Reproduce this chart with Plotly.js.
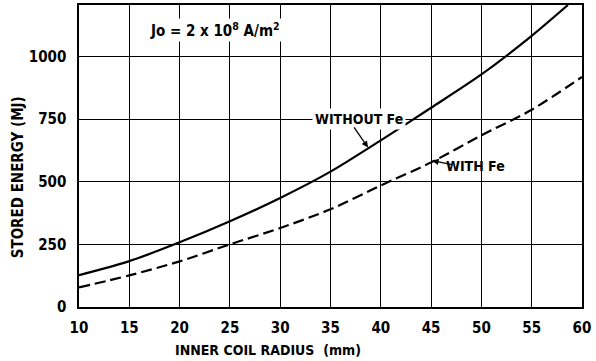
<!DOCTYPE html>
<html>
<head>
<meta charset="utf-8">
<script src="https://cdn.plot.ly/plotly-3.0.1.min.js"></script>
<style>html,body{margin:0;padding:0;background:#fff;}#chart{width:596px;height:361px;}</style>
</head>
<body>
<div id="chart"></div>
<script>
// Data
const radiusWithout = [10, 15, 20, 25, 30, 35, 40, 45, 50, 55, 58.6];
const energyWithout = [127, 183, 258, 342, 435, 540, 665, 795, 928, 1082, 1205];
const radiusWith = [10, 15, 20, 25, 30, 35, 40, 45, 50, 55, 60];
const energyWith = [78, 126, 182, 250, 315, 390, 485, 577, 685, 787, 918];
const xTicks = [10, 15, 20, 25, 30, 35, 40, 45, 50, 55, 60];
const yTicks = [0, 250, 500, 750, 1000];
const labelWithout = 'WITHOUT Fe';
const labelWith = 'WITH Fe';
const noteText = 'Jo = 2 x 10<sup>8</sup> A/m<sup>2</sup>';
const xTitle = 'INNER COIL RADIUS  (mm)';
const yTitle = 'STORED ENERGY (MJ)';

const FONT = '"Liberation Sans Narrow", "DejaVu Sans Condensed", Arial, sans-serif';

const traces = [
  {x: radiusWithout, y: energyWithout, mode: 'lines', type: 'scatter',
   line: {color: '#000', width: 2.2, shape: 'spline', smoothing: 0.8}, hoverinfo: 'skip'},
  {x: radiusWith, y: energyWith, mode: 'lines', type: 'scatter',
   line: {color: '#000', width: 2.2, dash: '11px,5px', shape: 'spline', smoothing: 0.8}, hoverinfo: 'skip'}
];

const axisCommon = {
  showgrid: true, gridcolor: '#000', gridwidth: 1,
  showline: true, linecolor: '#000', linewidth: 1.6, mirror: true,
  ticks: '', zeroline: false,
  tickfont: {family: FONT, size: 15, color: '#000', weight: 'bold'}
};

const layout = {
  width: 596, height: 361,
  margin: {l: 79, r: 14, t: 5, b: 54},
  paper_bgcolor: '#fff', plot_bgcolor: '#fff',
  showlegend: false,
  font: {family: FONT, color: '#000'},
  xaxis: Object.assign({}, axisCommon, {range: [10, 60], tickvals: xTicks, ticktext: xTicks.map(String), ticklabelstandoff: 6}),
  yaxis: Object.assign({}, axisCommon, {range: [0, 1205], tickvals: yTicks, ticktext: yTicks.map(String), ticklabelstandoff: 8}),
  annotations: [
    {x: 23.5, y: 1107, xref: 'x', yref: 'y', text: noteText, showarrow: false,
     font: {family: FONT, size: 15, color: '#000', weight: 'bold'}, bgcolor: '#fff'},
    {x: 37.8, y: 752, xref: 'x', yref: 'y', text: labelWithout, showarrow: false,
     font: {family: FONT, size: 14, color: '#000', weight: 'bold'}, bgcolor: '#fff', borderpad: 2},
    {x: 38.73, y: 636, xref: 'x', yref: 'y', ax: 37.24, ay: 723, axref: 'x', ayref: 'y',
     text: '', showarrow: true, arrowhead: 2, arrowsize: 1, arrowwidth: 1.3, arrowcolor: '#000'},
    {x: 49.4, y: 563, xref: 'x', yref: 'y', text: labelWith, showarrow: false,
     font: {family: FONT, size: 14, color: '#000', weight: 'bold'}},
    {x: 45.1, y: 584, xref: 'x', yref: 'y', ax: 47.2, ay: 567, axref: 'x', ayref: 'y',
     text: '', showarrow: true, arrowhead: 2, arrowsize: 1, arrowwidth: 1.3, arrowcolor: '#000'},
    {x: 0.376, y: -0.142, xref: 'paper', yref: 'paper', xanchor: 'center', yanchor: 'middle',
     text: xTitle, showarrow: false,
     font: {family: FONT, size: 14, color: '#000', weight: 'bold'}},
    {x: -0.121, y: 0.43, xref: 'paper', yref: 'paper', xanchor: 'center', yanchor: 'middle',
     text: yTitle, showarrow: false, textangle: -90,
     font: {family: FONT, size: 15, color: '#000', weight: 'bold'}}
  ]
};

Plotly.newPlot('chart', traces, layout, {displayModeBar: false, staticPlot: true});
</script>
</body>
</html>
